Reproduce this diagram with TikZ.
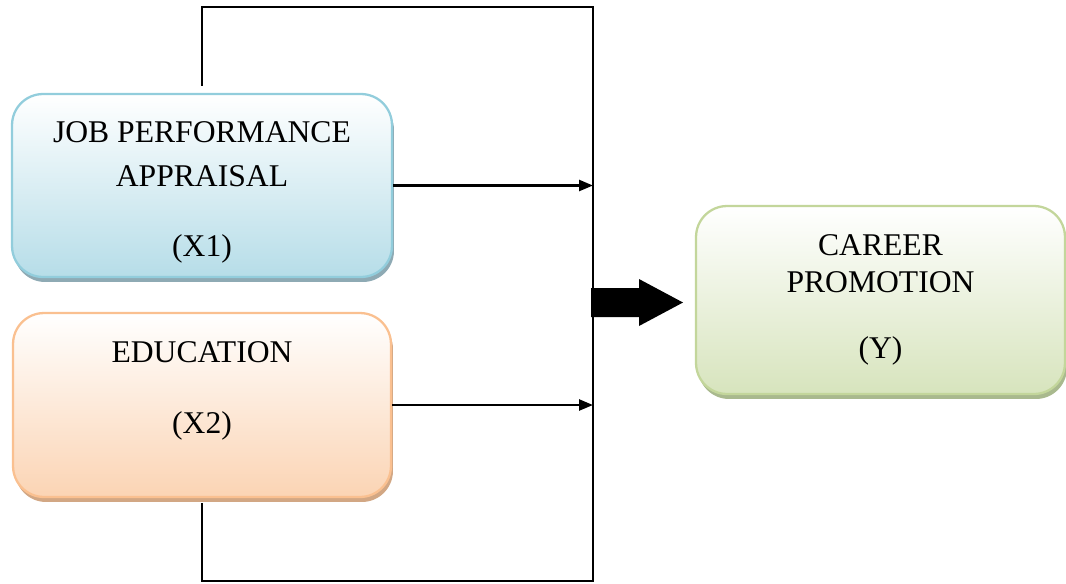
\documentclass[tikz,border=0pt]{standalone}
\usepackage{fontspec}
\setmainfont{Liberation Serif}
\usetikzlibrary{arrows.meta, shadows}

\definecolor{jobline}{HTML}{92CDDC}
\definecolor{jobfill}{HTML}{B6DDE8}
\definecolor{jobshadow}{HTML}{8EAAB4}
\definecolor{eduline}{HTML}{FAC090}
\definecolor{edufill}{HTML}{FBD4B4}
\definecolor{edushadow}{HTML}{D2A784}
\definecolor{carline}{HTML}{C3D69B}
\definecolor{carfill}{HTML}{D7E4BD}
\definecolor{carshadow}{HTML}{A9B98E}

\begin{document}
\begin{tikzpicture}[x=0.02cm, y=-0.02cm, >={Triangle[length=0.28cm,width=0.22cm]}]
\tikzstyle{varbox}=[rounded corners=0.62cm, inner sep=0pt, line width=1.3pt, font=\fontsize{18pt}{25pt}\selectfont]
\tikzset{link/.style={->, line width=1.4pt}, bus/.style={line width=1.4pt}}

\useasboundingbox (0,0) rectangle (1066,583);

        % the two inputs and the outcome
        \node[varbox, draw=jobline, top color=white, bottom color=jobfill,
              drop shadow={shadow xshift=0.04cm, shadow yshift=-0.1cm, fill=jobshadow, opacity=1}]
              (job) at (202,185.5) {\parbox[c][3.66cm][t]{7.6cm}{\centering\vspace*{0.56cm}JOB PERFORMANCE\\APPRAISAL\\[14.8pt](X1)}};
        \node[varbox, draw=eduline, top color=white, bottom color=edufill,
              drop shadow={shadow xshift=0.04cm, shadow yshift=-0.1cm, fill=edushadow, opacity=1}]
              (edu) at (202,405) {\parbox[c][3.68cm][t]{7.56cm}{\centering\vspace*{0.58cm}EDUCATION\\[15pt](X2)}};
        \node[varbox, draw=carline, top color=white, bottom color=carfill, font=\fontsize{18pt}{21pt}\selectfont,
              drop shadow={shadow xshift=0.04cm, shadow yshift=-0.1cm, fill=carshadow, opacity=1}]
              (career) at (880.5,300) {\parbox[c][3.76cm][t]{7.38cm}{\centering\vspace*{0.58cm}CAREER\\PROMOTION\\[16.5pt](Y)}};

        \coordinate (bustop) at (593,7);
        \coordinate (busbot) at (593,581);
        \coordinate (fat) at (591,302.5);

        \draw[bus] ([yshift=0.14cm]job.north) |- (bustop) -- (busbot) -| ([yshift=-0.1cm]edu.south);
        \draw[link] (job.east) -- (job.east -| bustop);
        \draw[link] (edu.east) -- (edu.east -| bustop);

        % block arrow towards the outcome
        \fill (fat) ++(0,-14.5) -- ++(48,0) -- ++(0,-9) -- ++(44,23.5) -- ++(-44,23.5) -- ++(0,-9) -- ++(-48,0) -- cycle;

\end{tikzpicture}
\end{document}
